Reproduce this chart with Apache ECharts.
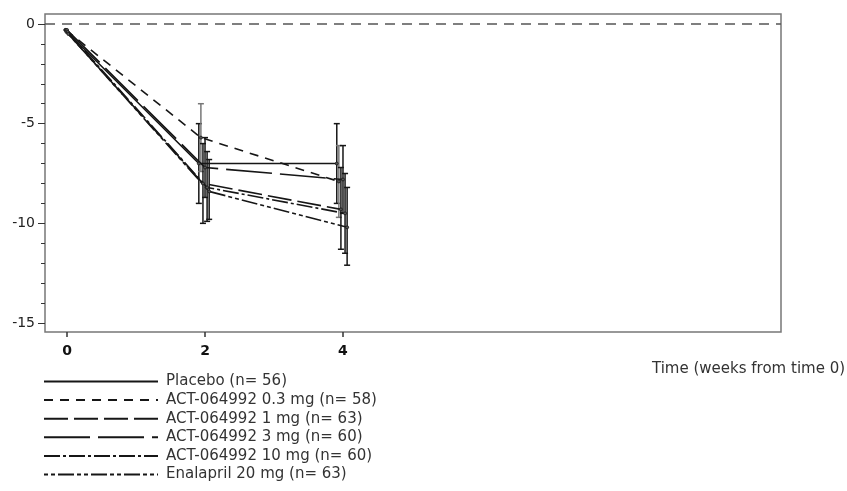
<!DOCTYPE html>
<html><head><meta charset="utf-8">
<script src="https://cdn.jsdelivr.net/npm/echarts@6/dist/echarts.min.js"></script>
<style>html,body{margin:0;padding:0;background:#fff}#c{width:847px;height:491px}</style>
</head><body><div id="c"></div>
<script>
var weeks = [0, 2, 4];
var seriesNames = ['Placebo (n= 56)', 'ACT-064992 0.3 mg (n= 58)', 'ACT-064992 1 mg (n= 63)', 'ACT-064992 3 mg (n= 60)', 'ACT-064992 10 mg (n= 60)', 'Enalapril 20 mg (n= 63)'];
var placebo   = [-0.3, -7.0, -7.0];
var act03     = [-0.3, -5.7, -7.9];
var act1      = [-0.4, -8.0, -9.3];
var act3      = [-0.3, -7.2, -7.8];
var act10     = [-0.4, -8.2, -9.5];
var enalapril = [-0.5, -8.4, -10.2];
var placeboHi   = [null, -5.0, -5.0],  placeboLo   = [null, -9.0, -9.0];
var act03Hi     = [null, -4.0, -6.1],  act03Lo     = [null, -7.4, -9.7];
var act1Hi      = [null, -6.0, -7.2],  act1Lo      = [null, -10.0, -11.3];
var act3Hi      = [null, -5.7, -6.1],  act3Lo      = [null, -8.7, -9.5];
var act10Hi     = [null, -6.4, -7.5],  act10Lo     = [null, -9.9, -11.5];
var enalaprilHi = [null, -6.8, -8.2],  enalaprilLo = [null, -9.8, -12.1];
var xTickLabels = [0, 2, 4];
var yTickLabels = [0, -5, -10, -15];

var means = [placebo, act03, act1, act3, act10, enalapril];
var his = [placeboHi, act03Hi, act1Hi, act3Hi, act10Hi, enalaprilHi];
var los = [placeboLo, act03Lo, act1Lo, act3Lo, act10Lo, enalaprilLo];
var offsets = [-0.09, -0.06, -0.03, 0, 0.03, 0.06];
var dashes = ['solid', [9, 7], [24, 6], [46, 8], [16, 3, 3, 3], [4, 3, 4, 3, 16, 3]];
var ink = '#161616';
var minorTicks = [];
for (var v = 0; v >= -15; v--) minorTicks.push(v);
var font = 'DejaVu Sans';

var series = [];
means.forEach(function (m, i) {
  series.push({
    name: seriesNames[i], type: 'line',
    data: weeks.map(function (w, j) { return [w + offsets[i] * (j === 0 ? 0.3 : 1), m[j]]; }),
    symbol: 'circle', symbolSize: 3, showSymbol: true,
    itemStyle: { color: '#555', borderColor: ink, borderWidth: 0.8 },
    lineStyle: { color: ink, width: 1.6, type: dashes[i] },
    emphasis: { disabled: true }, animation: false, z: 3,
    markLine: i === 0 ? {
      silent: true, symbol: 'none', label: { show: false },
      lineStyle: { color: '#555', type: [10, 7], width: 1.5 },
      data: [{ yAxis: 0 }]
    } : undefined
  });
  var ed = [];
  weeks.forEach(function (w, j) { if (his[i][j] != null) ed.push([w + offsets[i], los[i][j], his[i][j]]); });
  series.push({
    name: 'err' + i, type: 'custom', data: ed, animation: false, z: 2,
    renderItem: function (params, api) {
      var x = api.value(0);
      var p1 = api.coord([x, api.value(1)]);
      var p2 = api.coord([x, api.value(2)]);
      var c = 3;
      var st = { stroke: i === 1 ? '#777' : ink, lineWidth: 1.5 };
      return { type: 'group', children: [
        { type: 'line', shape: { x1: p1[0], y1: p1[1], x2: p2[0], y2: p2[1] }, style: st },
        { type: 'line', shape: { x1: p1[0] - c, y1: p1[1], x2: p1[0] + c, y2: p1[1] }, style: st },
        { type: 'line', shape: { x1: p2[0] - c, y1: p2[1], x2: p2[0] + c, y2: p2[1] }, style: st }
      ]};
    }
  });
});

var chart = echarts.init(document.getElementById('c'), null, { renderer: 'canvas' });
chart.setOption({
  backgroundColor: '#fff',
  animation: false,
  grid: { left: 45, top: 14, width: 736, height: 318, show: true, borderColor: '#777', borderWidth: 1.5, backgroundColor: 'transparent' },
  xAxis: {
    type: 'value', min: -0.32, max: 10.35,
    axisLine: { show: false, onZero: false }, splitLine: { show: false },
    axisTick: { show: true, customValues: xTickLabels, length: 5, lineStyle: { color: '#333', width: 1.5 } },
    axisLabel: { customValues: xTickLabels, color: '#111', fontSize: 14, fontWeight: 'bold', fontFamily: font, margin: 12 }
  },
  yAxis: [{
    type: 'value', min: -15.45, max: 0.5,
    axisLine: { show: false, onZero: false }, splitLine: { show: false },
    axisTick: { show: true, customValues: yTickLabels, length: 7, lineStyle: { color: '#333' } },
    axisLabel: { customValues: yTickLabels, color: '#222', fontSize: 14, fontFamily: font, margin: 10 }
  }, {
    type: 'value', min: -15.45, max: 0.5, position: 'left',
    axisLine: { show: false, onZero: false }, splitLine: { show: false },
    axisTick: { show: true, customValues: minorTicks, length: 4, lineStyle: { color: '#333' } },
    axisLabel: { show: false }
  }],
  legend: {
    data: seriesNames, orient: 'vertical', left: 43, top: 374, padding: 0,
    itemWidth: 114, itemHeight: 10, itemGap: 3.6, selectedMode: false,
    itemStyle: { opacity: 0 },
    textStyle: { color: '#333', fontSize: 15, lineHeight: 15, fontFamily: font, padding: [0, 0, 0, 3] }
  },
  graphic: [{
    type: 'text', left: 652, top: 362,
    style: { text: 'Time (weeks from time 0)', fill: '#333', font: '15px "DejaVu Sans"' }
  }],
  series: series
});
</script></body></html>
